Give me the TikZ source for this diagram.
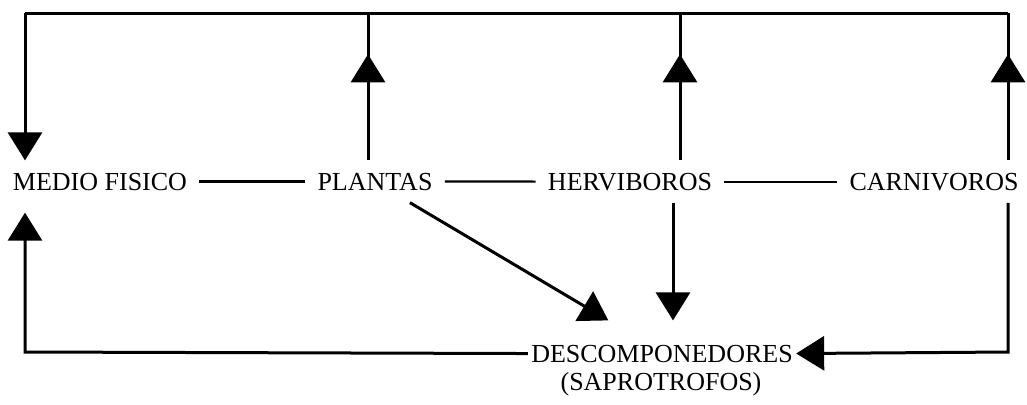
\documentclass[tikz,border=0pt]{standalone}
\usepackage{fontspec}
\setmainfont{Liberation Serif}
\usetikzlibrary{arrows.meta,positioning,calc,decorations.markings}

\begin{document}
\begin{tikzpicture}[
  x=0.5pt, y=-0.5pt,
  nivel/.style={inner sep=6pt, font=\fontsize{13}{15}\selectfont, anchor=base},
  flujo/.style={line width=1.5pt},
  enlace/.style={line width=1.1pt},
  punta/.style={-{Triangle[width=17pt,length=14pt]}},
  flechamedia/.style={postaction={decorate}, decoration={markings, mark=at position 0.72 with {\arrow{Triangle[width=17pt,length=14pt]}}}}
]
  \useasboundingbox (0,0) rectangle (1027,404);
  % niveles troficos
  \node[nivel] (medio) at (100,190) {MEDIO FISICO};
  \node[nivel] (plantas) at (375,190) {PLANTAS};
  \node[nivel] (herv) at (630,190) {HERVIBOROS};
  \node[nivel] (carn) at (934,190) {CARNIVOROS};
  \node[nivel, inner xsep=1.5pt, inner ysep=12pt] (desc) at (662,362) {DESCOMPONEDORES};
  \node[nivel, inner sep=1pt] (sapro) at (661,390) {(SAPROTROFOS)};
  % esquinas
  \coordinate (esqA) at (25,13);
  \coordinate (esqB) at (1008,13);
  \coordinate (esqC) at (25,352);
  \coordinate (esqD) at (1008,352);
  \coordinate (subP) at (368,13);
  \coordinate (subH) at (680,13);
  \coordinate (bajH) at (673,352);
  % cadena
  \draw[enlace] (medio.east) -- (plantas.west);
  \draw[enlace] (plantas.east) -- (herv.west);
  \draw[enlace] (herv.east) -- (carn.west);
  % retorno superior
  \draw[flujo] (esqB) -- (esqA);
  \draw[flujo, punta] (esqA) -- (esqA |- medio.north);
  \draw[flujo, flechamedia] (subP |- plantas.north) -- (subP);
  \draw[flujo, flechamedia] (subH |- herv.north) -- (subH);
  \draw[flujo, flechamedia] (esqB |- carn.north) -- (esqB);
  % descomponedores
  \draw[flujo, punta, shorten >=5pt] (desc.west) -- (esqC) -- (esqC |- medio.south);
  \draw[flujo, punta] (esqD |- carn.south) -- (esqD) -- (desc.east);
  \draw[flujo, punta] (bajH |- herv.south) -- (bajH |- desc.north);
  \draw[flujo, punta] ($(plantas.south)!0.5!(plantas.south east)$) -- ($(desc.north)!0.4!(desc.north west)$);
\end{tikzpicture}
\end{document}
